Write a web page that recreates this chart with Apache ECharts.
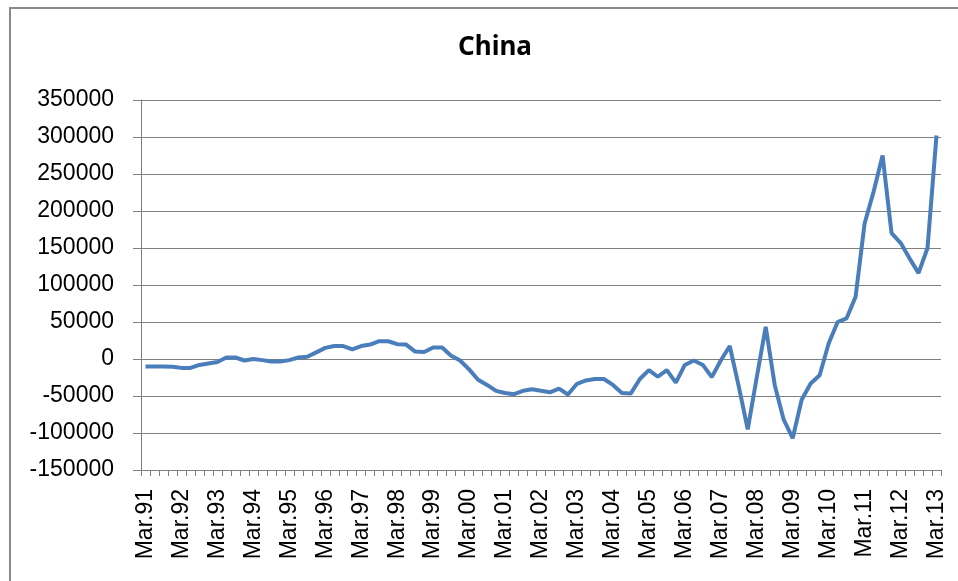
<!DOCTYPE html>
<html>
<head>
<meta charset="utf-8">
<script src="https://cdn.jsdelivr.net/npm/echarts@6/dist/echarts.min.js"></script>
<style>html,body{margin:0;padding:0;background:#fff;}#c{width:958px;height:581px;}</style>
</head>
<body>
<div id="c"></div>
<script>
var years = ['91','92','93','94','95','96','97','98','99','00','01','02','03','04','05','06','07','08','09','10','11','12','13'];
var quarters = ['Mar','Jun','Sep','Dec'];
var categories = [];
for (var y = 0; y < years.length; y++) {
  for (var q = 0; q < 4; q++) {
    if (y === years.length - 1 && q > 0) break;
    categories.push(quarters[q] + '.' + years[y]);
  }
}
var values = [
  -10000, -10000, -10000, -10500, -12000, -12000, -8000, -6000,
  -4000, 2000, 2000, -2000, 0, -1500, -3500, -3500,
  -1500, 2000, 3000, 9000, 15000, 17500, 17500, 13000,
  17500, 19500, 24000, 24000, 20000, 19500, 10000, 9500,
  15500, 15500, 4500, -2000, -14000, -28000, -35000, -43000,
  -46000, -47500, -43000, -41000, -43000, -45000, -40000, -48000,
  -33500, -29000, -27000, -27000, -35000, -46000, -46500, -27000,
  -15000, -24000, -15000, -32000, -8000, -2000, -8000, -24500,
  -2000, 17500, -37000, -95000, -25000, 43500, -35000, -82000,
  -107000, -55000, -33000, -22000, 21000, 50000, 55000, 84000,
  183000, 226000, 275000, 170000, 157000, 136000, 116000, 150000,
  302000
];
var yMin = -150000, yMax = 350000, yStep = 50000;

var chart = echarts.init(document.getElementById('c'));
chart.setOption({
  animation: false,
  backgroundColor: '#ffffff',
  title: {
    text: 'China',
    left: 490,
    top: 30,
    textAlign: 'center',
    textStyle: { fontFamily: 'Noto Sans', fontWeight: 'bold', fontSize: 26, color: '#000' }
  },
  graphic: [
    { type: 'line', shape: { x1: 9, y1: 8, x2: 958, y2: 8 }, style: { stroke: '#8a8a8a', lineWidth: 2 } },
    { type: 'line', shape: { x1: 10, y1: 7, x2: 10, y2: 581 }, style: { stroke: '#8a8a8a', lineWidth: 2 } }
  ],
  grid: { left: 141, right: 17, top: 100, bottom: 111 },
  xAxis: {
    type: 'category',
    data: categories,
    boundaryGap: true,
    axisLine: { onZero: false, lineStyle: { color: '#808080', width: 1 } },
    axisTick: { show: true, interval: 0, length: 6, lineStyle: { color: '#808080' } },
    axisLabel: {
      interval: 3, rotate: 90, margin: 19,
      fontFamily: 'Liberation Sans', fontSize: 23, color: '#000'
    },
    splitLine: { show: false }
  },
  yAxis: {
    type: 'value',
    min: yMin, max: yMax, interval: yStep,
    axisLine: { show: true, lineStyle: { color: '#808080', width: 1 } },
    axisTick: { show: true, length: 8, lineStyle: { color: '#808080' } },
    axisLabel: {
      margin: 27, fontFamily: 'Liberation Sans', fontSize: 23, color: '#000',
      formatter: function (v) { return String(v); }
    },
    splitLine: { show: true, lineStyle: { color: '#7f7f7f', width: 1.2 } }
  },
  series: [{
    type: 'line',
    data: values,
    symbol: 'none',
    lineStyle: { color: '#4a7ebb', width: 4 },
    itemStyle: { color: '#4a7ebb' }
  }]
});
</script>
</body>
</html>
